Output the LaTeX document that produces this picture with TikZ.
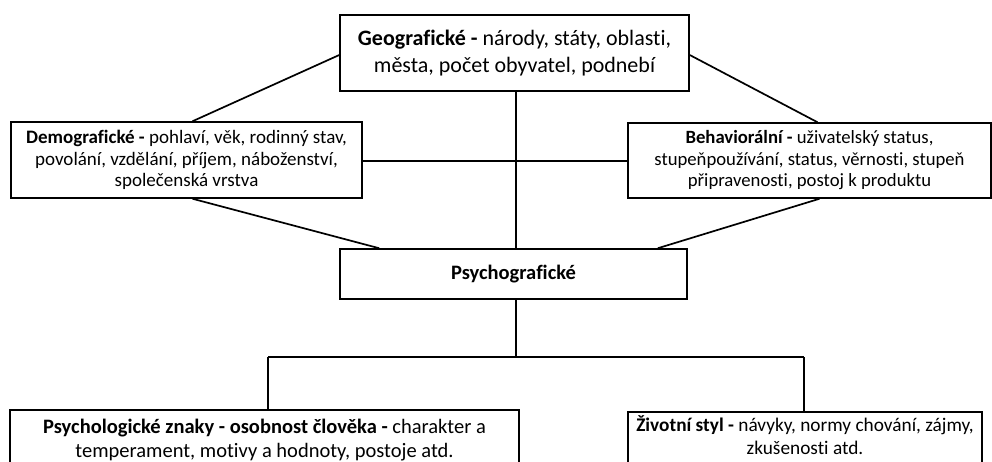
\documentclass[tikz,border=0pt]{standalone}
\usepackage{fontspec}
\setmainfont{Carlito}[Ligatures=NoCommon]
\usetikzlibrary{calc}
\begin{document}
\begin{tikzpicture}[x=1pt,y=-1pt,
  box/.style={draw=black,line width=1.5pt,fill=white,rectangle,inner sep=0pt,align=center,text=black},
  conn/.style={draw=black,line width=1.7pt},
  fsmall/.style={font=\fontsize{19}{21.5}\selectfont},
  fbig/.style={font=\fontsize{22}{26.5}\selectfont}]
\useasboundingbox (0,0) rectangle (992,461);
\clip (0,0) rectangle (992,461);
% boxes
\node[box,fbig,minimum width=349pt,minimum height=76pt] (geo) at (514.5,53)
  {\textbf{Geografické -} národy, státy, oblasti,\\města, počet obyvatel, podnebí};
\node[box,fsmall,minimum width=351pt,minimum height=76pt] (demo) at (186.5,160)
  {\textbf{Demografické -} pohlaví, věk, rodinný stav,\\povolání, vzdělání, příjem, náboženství,\\společenská vrstva};
\node[box,fsmall,font=\fontsize{18.7}{21.5}\selectfont,minimum width=363pt,minimum height=75pt] (beh) at (809.5,160.5)
  {\textbf{Behaviorální -} uživatelský status,\\stupeňpoužívání, status, věrnosti, stupeň\\připravenosti, postoj k produktu};
\node[box,font=\fontsize{20.5}{24}\selectfont\bfseries,minimum width=347pt,minimum height=50pt] (psy) at (513.5,274)
  {Psychografické};
\node[box,anchor=north,minimum width=509pt,minimum height=80pt] (pz) at (264.5,409) {};
\node[font=\fontsize{20.5}{23.5}\selectfont,align=center,anchor=north,inner sep=0pt] (pztext) at (264.5,419)
  {\textbf{Psychologické znaky - osobnost člověka -} charakter a\\temperament, motivy a hodnoty, postoje atd.};
\node[box,anchor=north,minimum width=354pt,minimum height=80pt] (zs) at (805,411) {};
\node[font=\fontsize{19.3}{23}\selectfont,align=center,anchor=north,inner sep=0pt] (zstext) at (805,415)
  {\textbf{Životní styl -} návyky, normy chování, zájmy,\\zkušenosti atd.};
% connectors
\coordinate (g1) at ($(geo.west)+(0,2)$);
\coordinate (g2) at ($(geo.east)+(0,2)$);
\draw[conn] (g1) -- ($(demo.north)+(6,0)$);
\draw[conn] (g2) -- ($(beh.north)+(8,0)$);
\draw[conn] ($(geo.south)+(1.5,0)$) -- ($(psy.north)+(2.5,0)$);
\draw[conn] ($(demo.east)+(0,1)$) -- ($(beh.west)+(0,0.5)$);
\draw[conn] ($(demo.south)+(6,0)$) -- ($(psy.north west)+(40,0)$);
\draw[conn] ($(beh.south)+(10,0)$) -- ($(psy.north east)+(-30,0)$);
\coordinate (mid) at (516,357);
\coordinate (lt) at (268,357);
\coordinate (rt) at (804,357);
\draw[conn] ($(psy.south)+(2.5,0)$) -- (mid);
\draw[conn] (lt) -- (rt);
\draw[conn] (lt) -- (lt |- pz.north);
\draw[conn] (rt) -- (rt |- zs.north);
\end{tikzpicture}
\end{document}
